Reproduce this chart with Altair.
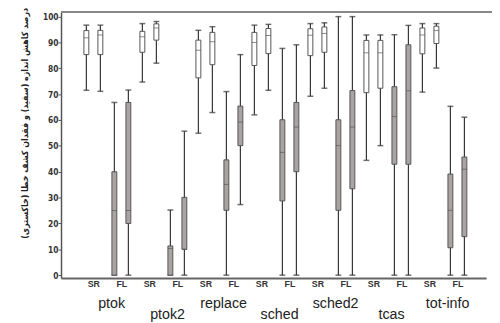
import altair as alt
import pandas as pd

programs = ["ptok", "ptok2", "replace", "sched", "sched2", "tcas", "tot-info"]
kinds = ["SR", "SR", "FL", "FL"]

lows = [71.5, 71.1, 0, 0, 74.7, 82.0, 0, 0, 54.9, 62.9, 0, 27.3, 62.0, 71.5, 0, 0,
        69.2, 72.3, 0, 0, 44.4, 50.1, 0, 0, 70.8, 80.1, 0, 0]
q1s = [85.3, 85.3, 0, 20.0, 86.2, 90.9, 0, 10.0, 76.3, 81.4, 25.1, 50.1, 81.1, 85.7, 28.7, 40.0,
       84.9, 86.2, 25.1, 33.4, 70.6, 72.3, 42.9, 42.9, 85.6, 89.6, 10.6, 14.9]
medians = [91.8, 92.9, 25.0, 25.0, 92.2, 95.6, 10.3, 10.0, 87.0, 90.3, 35.1, 59.2, 90.0, 92.7, 47.5, 57.3,
           92.8, 93.5, 50.1, 57.3, 86.0, 86.0, 61.4, 71.3, 92.9, 94.6, 25.1, 41.0]
q3s = [94.6, 94.7, 40.0, 66.8, 94.3, 97.2, 11.3, 30.1, 90.9, 93.9, 44.6, 65.4, 93.9, 95.4, 60.1, 66.8,
       95.3, 96.0, 60.1, 71.4, 90.8, 90.8, 72.9, 89.1, 95.6, 96.3, 39.1, 45.7]
highs = [96.7, 96.7, 66.8, 71.6, 97.3, 98.1, 25.2, 55.7, 94.7, 96.1, 71.0, 85.3, 96.7, 97.0, 87.7, 89.1,
         97.3, 97.6, 100.0, 100.0, 92.9, 92.9, 93.0, 96.6, 97.3, 97.3, 65.3, 61.1]

y_title = "درصد کاهش اندازه (سفید) و فقدان کشف خطا (خاکستری)"

rows = []
for i in range(len(lows)):
    rows.append({
        "pos": i,
        "program": programs[i // 4],
        "kind": kinds[i % 4],
        "low": lows[i], "q1": q1s[i], "median": medians[i], "q3": q3s[i], "high": highs[i],
    })
df = pd.DataFrame(rows)

lab = pd.DataFrame({"program": programs,
                    "center": [4 * i + 1.8 for i in range(len(programs))],
                    "row": [i % 2 for i in range(len(programs))]})

W, H = 433, 271
xs = alt.Scale(domain=[-1.46, 28.2], nice=False, zero=False)
ys = alt.Scale(domain=[-1.1, 101.8], nice=False, zero=False)

narrow = "Liberation Sans Narrow, Arial Narrow, DejaVu Sans Condensed, sans-serif"

x_axis = alt.Axis(
    values=[0.5 + 2 * k for k in range(14)], tickCount=40,
    labelExpr="round((datum.value - 0.5) / 2) % 2 == 0 ? 'SR' : 'FL'",
    ticks=False, grid=False, title=None, labelOverlap=False,
    domainColor="#666", domainWidth=2,
    labelFont="Liberation Sans, Arial, sans-serif", labelFontWeight="bold", labelFontSize=9,
    labelColor="#333", labelPadding=2)

y_axis = alt.Axis(values=list(range(0, 101, 10)), tickCount=40, grid=False, title=y_title,
                  labelOverlap=False,
                  tickSize=3, tickColor="#555", tickWidth=1,
                  domainColor="#555", domainWidth=1.5,
                  labelFont=narrow, labelFontWeight="bold", labelFontSize=8.5,
                  labelColor="#333", labelPadding=0,
                  titleFont="DejaVu Sans Condensed, DejaVu Sans", titleFontSize=9,
                  titleFontWeight="bold",
                  titleColor="#222", titleAngle=270, titleX=-37, titleY=113,
                  titleAlign="center", titleBaseline="middle")


def X():
    return alt.X("pos:Q", scale=xs, axis=x_axis)


def Y(field):
    return alt.Y(field, scale=ys, axis=y_axis)


base = alt.Chart(df)

whisk = base.mark_rule(color="#333", strokeWidth=1.2).encode(
    x=X(), y=Y("low:Q"), y2="high:Q")
cap_hi = base.mark_tick(orient="horizontal", size=6, thickness=1.5, color="#333").encode(
    x=X(), y=Y("high:Q"))
cap_lo = base.mark_tick(orient="horizontal", size=6, thickness=1.5, color="#333").encode(
    x=X(), y=Y("low:Q"))
boxes = base.mark_bar(size=5, stroke="#555", strokeWidth=1).encode(
    x=X(), y=Y("q1:Q"), y2="q3:Q",
    color=alt.Color("kind:N", scale=alt.Scale(domain=["SR", "FL"], range=["#ffffff", "#a9a3a3"]),
                    legend=None))
med = base.mark_tick(orient="horizontal", size=5, thickness=1, color="#555").encode(
    x=X(), y=Y("median:Q"))

top = alt.Chart(lab).mark_rule(color="#888", strokeWidth=1.5).encode(
    x=alt.value(0), x2=alt.value(W + 10), y=alt.value(0))

lab_up = alt.Chart(lab).transform_filter("datum.row == 0").mark_text(
    font="Liberation Sans, Arial, sans-serif", fontSize=14.5, color="#222", baseline="alphabetic"
).encode(x=alt.X("center:Q", scale=xs, axis=x_axis), y=alt.value(302), text="program:N")
lab_dn = alt.Chart(lab).transform_filter("datum.row == 1").mark_text(
    font="Liberation Sans, Arial, sans-serif", fontSize=14.5, color="#222", baseline="alphabetic"
).encode(x=alt.X("center:Q", scale=xs, axis=x_axis), y=alt.value(313), text="program:N")

chart = alt.layer(whisk, cap_hi, cap_lo, boxes, med, top, lab_up, lab_dn).properties(
    width=W, height=H,
    autosize=alt.AutoSizeParams(type="none"),
    padding={"left": 54, "top": 1, "right": 6, "bottom": 54},
).configure_view(stroke=None)

chart.save("out.html", embed_options={"renderer": "svg", "actions": False})
